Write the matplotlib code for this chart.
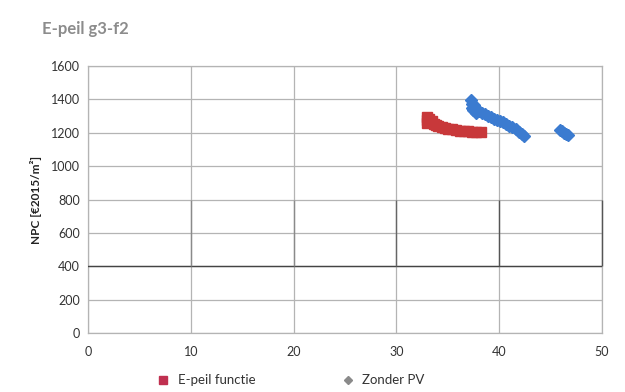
import matplotlib
matplotlib.use("Agg")
import matplotlib.pyplot as plt
from matplotlib.lines import Line2D

plt.rcParams['font.family'] = ['Lato', 'DejaVu Sans']

title = "E-peil g3-f2"
y_label = "NPC [€2015/m²]"
x_ticks = [0, 10, 20, 30, 40, 50]
y_ticks = [0, 200, 400, 600, 800, 1000, 1200, 1400, 1600]

# E-peil functie
epeil_x = [33.0, 33.0, 33.0, 33.2, 33.3, 33.5, 33.7, 33.9, 34.1, 34.4,
           34.7, 35.0, 35.4, 35.8, 36.2, 36.6, 37.0, 37.4, 37.8, 38.2]
epeil_y = [1295, 1275, 1258, 1285, 1262, 1268, 1255, 1245, 1238, 1232,
           1228, 1224, 1220, 1216, 1213, 1210, 1208, 1206, 1204, 1202]

# Zonder PV
zpv_x = [37.3, 37.4, 37.4, 37.5, 37.6, 37.7, 37.8, 38.0, 38.3, 38.6, 38.9,
         39.2, 39.5, 39.8, 40.1, 40.4, 40.7, 41.0, 41.3, 41.6, 41.9, 42.2,
         42.4, 45.9, 46.1, 46.3, 46.5, 46.7]
zpv_y = [1395, 1375, 1350, 1335, 1365, 1340, 1320, 1330, 1318, 1310, 1300,
         1295, 1285, 1275, 1268, 1262, 1252, 1242, 1232, 1220, 1205, 1192,
         1180, 1215, 1210, 1200, 1192, 1188]

red = '#C8383A'
blue = '#3B7BD0'
grid_c = '#B4B4B4'

fig = plt.figure(figsize=(6.25, 3.92), dpi=100)
ax = fig.add_axes([0.1408, 0.1505, 0.8222, 0.6811])

ax.set_xlim(0, 50)
ax.set_ylim(0, 1600)
ax.set_xticks(x_ticks)
ax.set_yticks(y_ticks)
ax.grid(True, color=grid_c, linewidth=0.9)
ax.set_axisbelow(True)

# darker band of grid lines in the middle of the plot
ax.axhline(400, color='#444444', linewidth=1.0, zorder=2.6)
for xv, col in [(10, '#8A8A8A'), (20, '#8A8A8A'), (30, '#666666'),
                (40, '#555555'), (50, '#555555')]:
    ax.vlines(xv, 400, 800, color=col, linewidth=1.0, zorder=2.6, clip_on=False)

for s in ax.spines.values():
    s.set_color(grid_c)
    s.set_linewidth(0.9)
ax.tick_params(axis='both', length=0, labelsize=9, colors='#333333', pad=6)
ax.tick_params(axis='x', pad=9)

ax.plot(epeil_x, epeil_y, linestyle='none', marker='s', markersize=7,
        color=red, markeredgecolor=red, zorder=3)
ax.plot(zpv_x, zpv_y, linestyle='none', marker='D', markersize=6.5,
        color=blue, markeredgecolor=blue, zorder=3)

ax.set_ylabel(y_label, fontsize=8.5, fontweight='bold', color='#222222', labelpad=6)

fig.text(0.068, 0.925, title, fontsize=12, fontweight='bold', color='#8C8C8C',
         ha='left', va='center')

handles = [
    Line2D([], [], linestyle='none', marker='s', markersize=6, color='#C03050'),
    Line2D([], [], linestyle='none', marker='D', markersize=4.5, color='#8A8A8A'),
]
fig.legend(handles, ['E-peil functie', 'Zonder PV'], loc='center',
           bbox_to_anchor=(0.46, 0.03), ncol=2, frameon=False, fontsize=9.5,
           handletextpad=0.1, columnspacing=6.0, labelcolor='#333333')

fig.savefig('out.png', dpi=100)
